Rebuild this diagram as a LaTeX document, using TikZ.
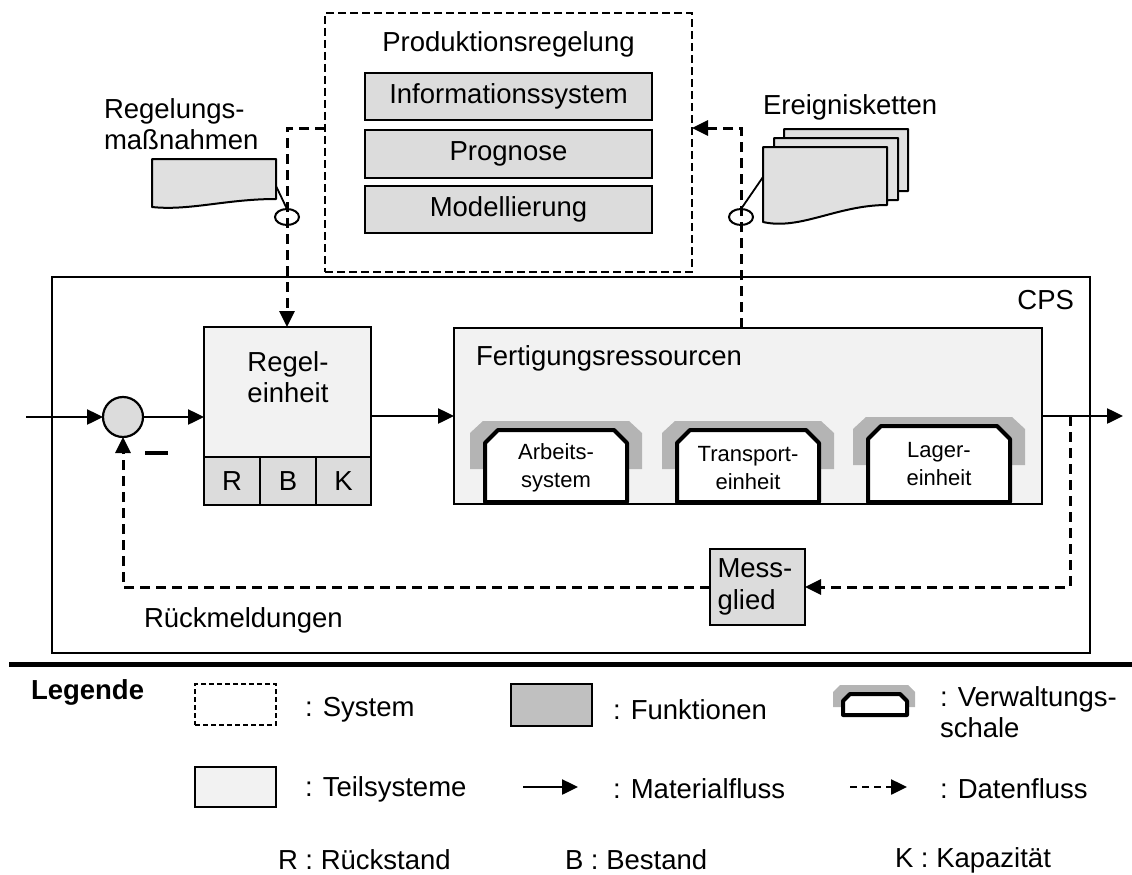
\documentclass[tikz,border=0pt]{standalone}
\usepackage{fontspec}
\setmainfont{Liberation Sans}
\usetikzlibrary{arrows.meta,shapes.geometric}

\definecolor{funcgray}{HTML}{DCDCDC}
\definecolor{subgray}{HTML}{F2F2F2}
\definecolor{shellgray}{HTML}{B4B4B4}
\definecolor{legfunc}{HTML}{C0C0C0}
\definecolor{docgray}{HTML}{E0E0E0}

% document sheet with a wavy lower edge: left x, top y, width, left height, right height
\newcommand{\docsheet}[5]{%
  \draw[docstyle] (#1,#2) -- ({#1+#3},#2) -- ({#1+#3},{#2+#5})
    .. controls ({#1+0.6*#3},{#2+#5}) and ({#1+0.3*#3},{#2+#4+0.5*(#4-#5)}) .. (#1,{#2+#4}) -- cycle;}

% asset administration shell: node name, centre x, top of grey shell, label
\newcommand{\shellunit}[4]{%
  \fill[shellgray] ({#2-86},{#3+48}) -- ({#2-86},{#3+12}) -- ({#2-73},#3) -- ({#2+73},#3)
    -- ({#2+86},{#3+12}) -- ({#2+86},{#3+48}) -- cycle;
  \draw[line width=4pt, fill=white, line join=round] ({#2-71},502) -- ({#2-71},{#3+22})
    -- ({#2-58},{#3+9}) -- ({#2+58},{#3+9}) -- ({#2+71},{#3+22}) -- ({#2+71},502) -- cycle;
  \node[shelltext] (#1) at (#2,{#3+47}) {#4};}

\begin{document}
\begin{tikzpicture}[x=1pt,y=-1pt,
  every node/.style={inner sep=0pt, outer sep=0pt},
  font=\fontsize{27.5}{31.6}\selectfont,
  arrowtip/.style={-{Triangle[length=16pt,width=15pt]}},
  flow/.style={line width=2.5pt, arrowtip},
  dataline/.style={line width=3pt, dash pattern=on 10pt off 6pt},
  data/.style={dataline, arrowtip},
  sysbox/.style={draw, line width=2.5pt, dash pattern=on 8pt off 4pt},
  funcbox/.style={draw, line width=2pt, fill=funcgray},
  subbox/.style={draw, line width=2.2pt, fill=subgray},
  tag/.style={draw, ellipse, line width=2pt, minimum width=24pt, minimum height=16pt},
  docstyle/.style={draw, line width=2pt, fill=docgray, line join=round},
  shelltext/.style={font=\fontsize{22}{27.5}\selectfont, align=center},
]
\useasboundingbox (0,0) rectangle (1132,875);

% ---------- cyber-physical system frame ----------
\node[draw, line width=2.2pt, minimum width=1038pt, minimum height=376pt] (cps) at (571,465) {};
\node[anchor=east] (cpslabel) at (1074,300) {CPS};

% ---------- production control ----------
\node[sysbox, minimum width=367pt, minimum height=259pt] (pr) at (508.5,142.5) {};
\node (prtitle) at (508.5,44) {Produktionsregelung};
\node[funcbox, minimum width=287pt, minimum height=47pt] (info) at (508.5,96.5) {Informationssystem};
\node[funcbox, minimum width=287pt, minimum height=48pt] (prog) at (508.5,154) {Prognose};
\node[funcbox, minimum width=287pt, minimum height=47pt] (model) at (508.5,209.5) {Modellierung};

% ---------- controller ----------
\node[subbox, minimum width=167pt, minimum height=178pt] (reg) at (287.5,416) {};
\node[align=center] (regtext) at (288,377) {Regel-\\einheit};
\node[funcbox, line width=2.2pt, minimum width=56pt, minimum height=48pt] (cellR) at (232,481) {R};
\node[funcbox, line width=2.2pt, minimum width=56pt, minimum height=48pt] (cellB) at (288,481) {B};
\node[funcbox, line width=2.2pt, minimum width=55pt, minimum height=48pt] (cellK) at (343.5,481) {K};

% ---------- summing junction ----------
\node[circle, draw, line width=2.2pt, fill=funcgray, minimum size=40pt] (sum) at (123,417) {};
\node (minus) at (156.5,453) {\rule{23pt}{3.5pt}};
\coordinate (input) at (26,417);
\draw[flow] (input) -- (sum);
\draw[flow] (sum) -- (sum -| reg.west);

% ---------- manufacturing resources ----------
\node[subbox, minimum width=588pt, minimum height=176pt] (fert) at (748,416) {};
\node[anchor=west] (ferttitle) at (476,358) {Fertigungsressourcen};
\shellunit{arbeit}{556}{421}{Arbeits-\\system}
\shellunit{transport}{748}{421}{Transport-\\einheit}
\shellunit{lager}{939}{417}{Lager-\\einheit}

\draw[flow] (reg.east) -- (fert.west);
\coordinate (output) at (1123,416);
\draw[flow] (fert.east) -- (output);

% ---------- measurement and feedback ----------
\node[funcbox, minimum width=95pt, minimum height=76pt, align=left, text width=80pt] (mess) at (757.5,587) {Mess-\\glied};
\coordinate (tap) at (1070,416);
\coordinate (tapdown) at (1070,587);
\draw[data] (tap) -- (tapdown) -- (mess.east);
\draw[data] (mess.west) -- (sum |- mess.west) -- (sum.south);
\node[anchor=west] (rueck) at (144,620) {Rückmeldungen};

% ---------- control measures ----------
\node[anchor=west, align=left] (massn) at (104,124) {Regelungs-\\maßnahmen};
\docsheet{152}{159}{124}{48}{40}
\coordinate (massnedge) at (276,186);
\coordinate (leftbend) at (287,128);
\draw[data] (leftbend -| pr.west) -- (leftbend) -- (reg.north -| leftbend);
\node[tag] (tagL) at (287,217) {};
\draw[line width=1.8pt] (massnedge) -- (tagL.north);

% ---------- event chains ----------
\node[anchor=west] (ereig) at (763,107) {Ereignisketten};
\docsheet{784}{129}{124}{75}{62}
\docsheet{774}{138}{124}{75}{62}
\docsheet{763}{147}{124}{75}{58}
\coordinate (ereigedge) at (763,177);
\coordinate (rightbend) at (741,128);
\draw[data] (fert.north -| rightbend) -- (rightbend) -- (pr.east |- rightbend);
\node[tag] (tagR) at (741,217) {};
\draw[line width=1.8pt] (ereigedge) -- (tagR.north);

% ---------- legend ----------
\coordinate (sepL) at (9,664);
\coordinate (sepR) at (1132,664);
\draw[line width=5pt] (sepL) -- (sepR);

\node[anchor=west] (legtitle) at (31,692) {\textbf{Legende}};

\node[draw, line width=2pt, dash pattern=on 5pt off 3pt, minimum width=81pt, minimum height=41pt] (legsys) at (235.5,704.5) {};
\node[anchor=west] (legsyst) at (305,710) {: System};

\node[draw, line width=2pt, fill=legfunc, minimum width=81pt, minimum height=42pt] (legfunc) at (551.5,705) {};
\node[anchor=west] (legfunct) at (613,710) {: Funktionen};

\fill[shellgray] (833,707) -- (833,692) -- (840,685) -- (908,685) -- (915,692) -- (915,707) -- cycle;
\draw[line width=4pt, fill=white, line join=round] (843,715) -- (843,701) -- (850,694) -- (900,694) -- (907,701) -- (907,715) -- cycle;
\node[anchor=west, align=left] (legvwst) at (940,712) {: Verwaltungs-\\schale};

\node[draw, line width=2pt, fill=subgray, minimum width=81pt, minimum height=40pt] (legsub) at (235.5,787) {};
\node[anchor=west] (legsubt) at (305,789) {: Teilsysteme};

\coordinate (legma) at (523,787);
\coordinate (legmb) at (578,787);
\draw[flow] (legma) -- (legmb);
\node[anchor=west] (legmat) at (613,789) {: Materialfluss};

\coordinate (legda) at (850,787);
\coordinate (legdb) at (907,787);
\draw[line width=2.5pt, dash pattern=on 7pt off 5pt, arrowtip] (legda) -- (legdb);
\node[anchor=west] (legdat) at (940,789) {: Datenfluss};

\node[anchor=west] (legr) at (278,860) {R : Rückstand};
\node[anchor=west] (legb) at (565,860) {B : Bestand};
\node[anchor=west] (legk) at (895,860) {K : Kapazität};
\end{tikzpicture}
\end{document}
